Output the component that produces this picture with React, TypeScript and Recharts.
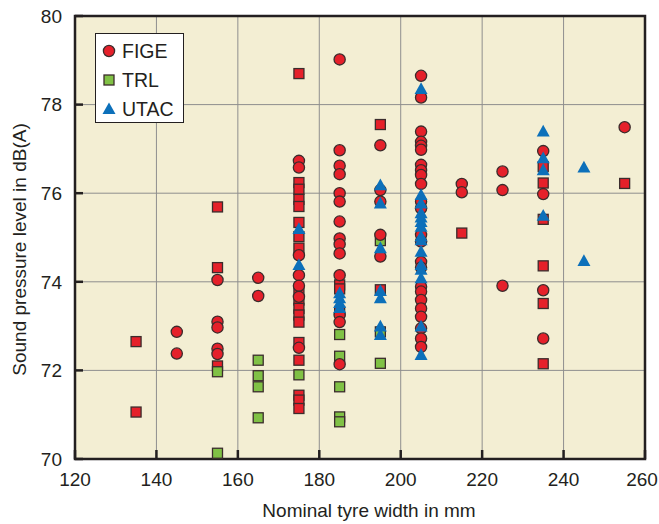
import { ScatterChart, Scatter, XAxis, YAxis, CartesianGrid, ReferenceArea } from 'recharts';

// [nominal tyre width (mm), sound pressure level dB(A)]
const FIGE_CIRCLES: [number, number][] = [
  [145, 72.87], [145, 72.38],
  [155, 74.04], [155, 73.1], [155, 72.97], [155, 72.49], [155, 72.37],
  [165, 74.09], [165, 73.68],
  [175, 76.73], [175, 76.58], [175, 74.6], [175, 74.15], [175, 73.91], [175, 73.66], [175, 72.51],
  [185, 79.02], [185, 76.97], [185, 76.62], [185, 76.43], [185, 76.0], [185, 75.81], [185, 75.36],
  [185, 74.98], [185, 74.85], [185, 74.64], [185, 74.15], [185, 73.25], [185, 73.09], [185, 72.14],
  [195, 77.08], [195, 76.07], [195, 75.81], [195, 75.06], [195, 74.57],
  [205, 78.65], [205, 78.16], [205, 77.39], [205, 77.16], [205, 77.07], [205, 76.98], [205, 76.64],
  [205, 76.52], [205, 76.41], [205, 76.21], [205, 75.81], [205, 75.66], [205, 75.06], [205, 74.91],
  [205, 74.45], [205, 74.32], [205, 73.89], [205, 73.78], [205, 73.59], [205, 73.4], [205, 73.21],
  [205, 72.95], [205, 72.72], [205, 72.53],
  [215, 76.21], [215, 76.02],
  [225, 76.49], [225, 76.07], [225, 73.91],
  [235, 76.95], [235, 75.98], [235, 73.81], [235, 72.72],
  [255, 77.49],
];

const FIGE_SQUARES: [number, number][] = [
  [135, 72.65], [135, 71.06],
  [155, 75.69], [155, 74.32], [155, 72.1],
  [175, 78.7], [175, 76.24], [175, 76.09], [175, 75.86], [175, 75.7], [175, 75.34], [175, 75.02],
  [175, 74.76], [175, 73.76], [175, 73.59], [175, 73.4], [175, 73.25], [175, 73.09], [175, 72.63],
  [175, 72.23], [175, 71.44], [175, 71.33], [175, 71.14],
  [185, 73.93], [185, 73.84], [185, 73.33],
  [195, 77.55], [195, 73.82],
  [215, 75.1],
  [235, 76.6], [235, 76.23], [235, 75.41], [235, 74.36], [235, 73.51], [235, 72.15],
  [255, 76.22],
];

const TRL_POINTS: [number, number][] = [
  [155, 71.97], [155, 70.13],
  [165, 72.23], [165, 71.88], [165, 71.63], [165, 70.93],
  [175, 71.9],
  [185, 72.81], [185, 72.32], [185, 71.63], [185, 70.95], [185, 70.84],
  [195, 74.93], [195, 72.87], [195, 72.16],
];

const UTAC_POINTS: [number, number][] = [
  [175, 75.19], [175, 74.38],
  [185, 73.74], [185, 73.63], [185, 73.52], [185, 73.41],
  [195, 76.18], [195, 75.77], [195, 74.76], [195, 73.79], [195, 73.63], [195, 72.99], [195, 72.8],
  [205, 78.35], [205, 75.96], [205, 75.77], [205, 75.55], [205, 75.45], [205, 75.35], [205, 75.24],
  [205, 75.02], [205, 74.94], [205, 74.68], [205, 74.38], [205, 74.27], [205, 74.08], [205, 72.99],
  [205, 72.35],
  [235, 77.39], [235, 76.79], [235, 76.52], [235, 75.49],
  [245, 76.58], [245, 74.47],
];

const X_TICKS = [120, 140, 160, 180, 200, 220, 240, 260];
const Y_TICKS = [70, 72, 74, 76, 78, 80];
const LEGEND_LABELS = ['FIGE', 'TRL', 'UTAC'];

const RED = '#e5202a';
const GREEN = '#80c145';
const BLUE = '#0c70ba';
const EDGE = '#3b2c2c';
const INK = '#231f20';
const FONT = '"Liberation Sans", Arial, sans-serif';
const FS = 19;

const toPoints = (rows: [number, number][]) => rows.map(([width, level]) => ({ width, level }));

const CircleMark = (p: any) => (
  <circle cx={p.cx} cy={p.cy} r={5.6} fill={RED} stroke={EDGE} strokeWidth={1.3} />
);
const squareMark = (color: string) => (p: any) => (
  <rect x={p.cx - 5} y={p.cy - 5} width={10} height={10} fill={color} stroke={EDGE} strokeWidth={1.3} />
);
const TriangleMark = (p: any) => (
  <polygon
    points={`${p.cx},${p.cy - 6.8} ${p.cx + 6.5},${p.cy + 5} ${p.cx - 6.5},${p.cy + 5}`}
    fill={BLUE}
  />
);

const YTick = (p: any) => (
  <g>
    <line x1={p.x + 13} x2={p.x + 21} y1={p.y} y2={p.y} stroke={INK} strokeWidth={2.5} />
    <text x={p.x} y={p.y} dy="0.36em" textAnchor="end" fill={INK} fontSize={FS} fontFamily={FONT}>
      {p.payload.value}
    </text>
  </g>
);

const XTick = (p: any) => {
  const last = p.index === X_TICKS.length - 1;
  return (
    <g>
      <line x1={p.x} x2={p.x} y1={p.y - 13} y2={p.y - 22} stroke={INK} strokeWidth={2.5} />
      <text x={p.x} y={p.y} dx={last ? -3 : 0} dy="0.72em" textAnchor="middle" fill={INK}
        fontSize={FS} fontFamily={FONT}>
        {p.payload.value}
      </text>
    </g>
  );
};

const YTitle = (p: any) => {
  const vb = p.viewBox;
  const cx = vb.x + 19;
  const cy = vb.y + vb.height / 2 + 12;
  return (
    <text x={cx} y={cy} dy="0.36em" textAnchor="middle" transform={`rotate(-90, ${cx}, ${cy})`}
      fill={INK} fontSize={FS} fontFamily={FONT}>
      Sound pressure level in dB(A)
    </text>
  );
};

const XTitle = (p: any) => {
  const vb = p.viewBox;
  return (
    <text x={vb.x + vb.width / 2 + 9} y={vb.y + 51} dy="0.36em" textAnchor="middle"
      fill={INK} fontSize={FS} fontFamily={FONT}>
      Nominal tyre width in mm
    </text>
  );
};

const legendIcon = (i: number) => {
  if (i === 0) return <circle cx={13} cy={8} r={5.6} fill={RED} stroke={EDGE} strokeWidth={1.3} />;
  if (i === 1) return <rect x={8} y={3} width={10} height={10} fill={GREEN} stroke={EDGE} strokeWidth={1.3} />;
  return <polygon points="13,1.5 19.5,13 6.5,13" fill={BLUE} />;
};

const ChartLegend = () => (
  <div
    style={{
      position: 'absolute', left: 95, top: 33, width: 89, height: 90, boxSizing: 'border-box',
      border: `1.5px solid ${INK}`, background: '#fff', fontFamily: FONT, fontSize: 19.5, color: INK,
    }}
  >
    {LEGEND_LABELS.map((label, i) => (
      <div key={label} style={{ position: 'absolute', left: 0, top: 8 + i * 29, height: 18, display: 'flex', alignItems: 'center' }}>
        <svg width={26} height={16} style={{ display: 'block' }}>{legendIcon(i)}</svg>
        <span style={{ lineHeight: '18px' }}>{label}</span>
      </div>
    ))}
  </div>
);

export default function App() {
  return (
    <div style={{ position: 'absolute', left: 0, top: 0, width: 659, height: 524, background: '#fff' }}>
      <ScatterChart width={659} height={524} margin={{ top: 16, right: 14, bottom: 0, left: 0 }}>
        <CartesianGrid fill="#f3eed3" stroke="#8e8e8e" strokeWidth={1} />
        <XAxis
          type="number" dataKey="width" domain={[120, 260]} ticks={X_TICKS} height={65}
          axisLine={false} tickLine={false} tickSize={0} tickMargin={13} tick={<XTick />}
          interval={0} allowDataOverflow label={<XTitle />}
        />
        <YAxis
          type="number" dataKey="level" domain={[70, 80]} ticks={Y_TICKS} width={75}
          axisLine={false} tickLine={false} tickSize={0} tickMargin={13} tick={<YTick />}
          interval={0} allowDataOverflow label={<YTitle />}
        />
        <Scatter name="FIGE (square)" data={toPoints(FIGE_SQUARES)} shape={squareMark(RED)} isAnimationActive={false} legendType="none" />
        <Scatter name="TRL" data={toPoints(TRL_POINTS)} shape={squareMark(GREEN)} isAnimationActive={false} />
        <Scatter name="FIGE" data={toPoints(FIGE_CIRCLES)} shape={CircleMark} isAnimationActive={false} />
        <Scatter name="UTAC" data={toPoints(UTAC_POINTS)} shape={TriangleMark} isAnimationActive={false} />
        <ReferenceArea x1={120} x2={260} y1={70} y2={80} fill="none" stroke={INK} strokeWidth={2.5} />
      </ScatterChart>
      <ChartLegend />
    </div>
  );
}
